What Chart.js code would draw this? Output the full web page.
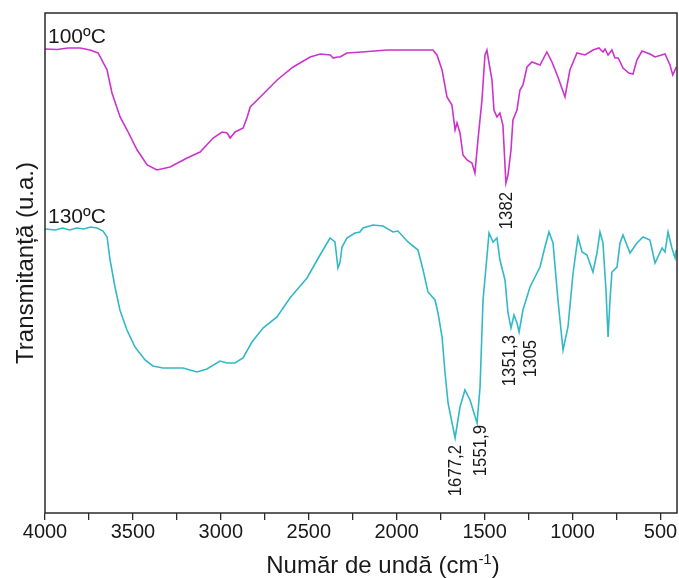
<!DOCTYPE html>
<html>
<head>
<meta charset="utf-8">
<script src="https://cdn.jsdelivr.net/npm/chart.js@4.4.0/dist/chart.umd.min.js"></script>
<style>
  html, body { margin: 0; padding: 0; background: #fff; }
</style>
</head>
<body>
<canvas id="ftirChart" width="679" height="578"></canvas>
<script>
// x axis ticks (cm-1), majors every 500 get a label
const xTicks = [4000, 3750, 3500, 3250, 3000, 2750, 2500, 2250, 2000, 1750, 1500, 1250, 1000, 750, 500]

const seriesNames = ['100ºC', '130ºC']

// 100 ºC spectrum
const wn100 = [4000, 3930, 3870, 3800, 3744, 3698, 3647, 3619, 3573, 3533, 3476, 3419, 3363, 3289, 3192, 3118, 3044, 2993, 2964, 2947,
  2919, 2873, 2850, 2833, 2776, 2680, 2589, 2492, 2435, 2378, 2361, 2338, 2322, 2283, 2197, 2055, 1868, 1794, 1771, 1742,
  1714, 1686, 1668, 1657, 1640, 1623, 1600, 1572, 1555, 1538, 1515, 1498, 1487, 1475, 1458, 1447, 1430, 1413, 1396, 1390,
  1379, 1367, 1350, 1339, 1316, 1299, 1282, 1259, 1231, 1185, 1146, 1117, 1083, 1043, 1015, 975, 929, 884, 850, 827,
  815, 798, 776, 759, 740, 713, 680, 656, 634, 605, 560, 531, 474, 446, 430, 410]
const t100 = [464, 463.5, 465, 465, 463, 460, 443, 420, 396, 383, 363, 348, 343, 346, 355, 361, 375, 381, 380, 375,
  381, 385, 396, 406, 416, 433, 446, 456, 459, 458, 455, 456, 456, 460, 461, 463, 463, 463, 458, 443,
  416, 408, 383, 390, 380, 358, 353, 350, 340, 373, 413, 458, 463, 450, 433, 403, 396, 400, 388, 368,
  330, 338, 363, 393, 403, 423, 428, 446, 451, 448, 461, 451, 436, 416, 443, 460, 458, 463, 465, 461,
  464, 458, 463, 455, 455, 445, 440, 439, 453, 462, 459, 456, 459, 448, 438, 446]

// 130 ºC spectrum
const wn130 = [4000, 3940, 3900, 3860, 3820, 3780, 3740, 3704, 3670, 3647, 3630, 3602, 3574, 3534, 3488, 3431, 3386, 3329, 3215, 3136,
  3079, 3005, 2965, 2920, 2874, 2823, 2760, 2681, 2607, 2510, 2436, 2379, 2351, 2334, 2322, 2311, 2283, 2237, 2209, 2192,
  2135, 2078, 2021, 1993, 1936, 1879, 1850, 1822, 1782, 1765, 1742, 1725, 1708, 1668, 1640, 1612, 1583, 1543, 1526, 1509,
  1487, 1475, 1452, 1430, 1413, 1384, 1367, 1350, 1333, 1316, 1304, 1282, 1242, 1185, 1157, 1134, 1111, 1083, 1054, 1026,
  997, 969, 946, 918, 884, 861, 844, 827, 810, 798, 787, 776, 747, 730, 713, 673, 634, 599, 560, 531,
  491, 474, 457, 435, 417, 410]
const t130 = [284, 283, 285, 283, 285, 284, 286, 285, 282, 276, 253, 226, 203, 183, 166, 153, 147, 145, 145, 141,
  144, 152, 150, 150, 155, 171, 185, 196, 215, 235, 258, 275, 271, 245, 251, 266, 275, 280, 281, 285,
  288, 287, 281, 282, 271, 263, 243, 221, 213, 200, 176, 140, 110, 75, 106, 123, 113, 90, 126, 213,
  256, 280, 271, 275, 253, 233, 200, 185, 198, 190, 181, 203, 226, 246, 266, 281, 270, 213, 163, 186,
  240, 276, 261, 258, 241, 260, 281, 270, 223, 176, 213, 241, 246, 270, 278, 260, 270, 276, 273, 250,
  265, 261, 281, 265, 255, 263]

// marked bands
const peakLabels = ['1382', '1677,2', '1551,9', '1351,3', '1305']
const peakWn = [1379, 1668, 1543, 1350, 1304]
const peakSeries = [0, 1, 1, 1, 1]

const FONT = '"Liberation Sans", Arial, sans-serif'

const extras = {
  id: 'extras',
  afterDraw(chart, args, opts) {
    const { ctx, chartArea: a, scales: { x, y } } = chart
    const wns = [wn100, wn130]
    const vals = [t100, t130]
    ctx.save()

    // frame
    ctx.strokeStyle = '#2a2a2a'
    ctx.lineWidth = 1.5
    ctx.strokeRect(a.left, a.top, a.right - a.left, a.bottom - a.top)

    ctx.fillStyle = '#1a1a1a'

    // series names above the start of each trace
    ctx.font = '21px ' + FONT
    ctx.textAlign = 'left'
    ctx.textBaseline = 'alphabetic'
    seriesNames.forEach((name, i) => {
      ctx.fillText(name, a.left + 3, y.getPixelForValue(vals[i][0]) - 6)
    })

    // rotated band labels under the minima
    ctx.font = '18px ' + FONT
    peakLabels.forEach((txt, i) => {
      const s = peakSeries[i]
      const idx = wns[s].indexOf(peakWn[i])
      const px = x.getPixelForValue(peakWn[i]) + opts.shift[i][0]
      const py = y.getPixelForValue(vals[s][idx]) + opts.shift[i][1]
      ctx.save()
      ctx.translate(px, py)
      ctx.rotate(-Math.PI / 2)
      ctx.scale(0.93, 1)
      ctx.textAlign = 'right'
      ctx.textBaseline = 'middle'
      ctx.fillText(txt, 0, 0)
      ctx.restore()
    })

    // y title
    ctx.font = '24px ' + FONT
    ctx.save()
    ctx.translate(a.left - 12, (a.top + a.bottom) / 2 + 0)
    ctx.rotate(-Math.PI / 2)
    ctx.textAlign = 'center'
    ctx.textBaseline = 'alphabetic'
    ctx.fillText('Transmitanță (u.a.)', 0, 0)
    ctx.restore()

    // x title with superscript
    const main = 'Număr de undă (cm'
    const sup = '-1'
    const end = ')'
    ctx.font = '24px ' + FONT
    const w1 = ctx.measureText(main).width
    const w3 = ctx.measureText(end).width
    ctx.font = '15px ' + FONT
    const w2 = ctx.measureText(sup).width
    const total = w1 + w2 + w3
    let tx = (a.left + a.right) / 2 + 22 - total / 2
    const ty = a.bottom + 60
    ctx.textAlign = 'left'
    ctx.font = '24px ' + FONT
    ctx.fillText(main, tx, ty)
    tx += w1
    ctx.font = '15px ' + FONT
    ctx.fillText(sup, tx, ty - 9)
    tx += w2
    ctx.font = '24px ' + FONT
    ctx.fillText(end, tx, ty)

    ctx.restore()
  }
}

const data = {
  datasets: [
    {
      label: seriesNames[0],
      data: wn100.map((w, i) => ({ x: w, y: t100[i] })),
      borderColor: '#cc33cc',
      borderWidth: 1.6,
      pointRadius: 0,
      tension: 0
    },
    {
      label: seriesNames[1],
      data: wn130.map((w, i) => ({ x: w, y: t130[i] })),
      borderColor: '#33b8c8',
      borderWidth: 1.6,
      pointRadius: 0,
      tension: 0
    }
  ]
}

new Chart(document.getElementById('ftirChart'), {
  type: 'line',
  data: data,
  plugins: [extras],
  options: {
    responsive: false,
    animation: false,
    devicePixelRatio: 1,
    layout: { padding: { top: 13, right: 2, left: 0, bottom: 0 } },
    plugins: {
      legend: { display: false },
      tooltip: { enabled: false },
      extras: { shift: [[1, 9], [1, 7], [4, 2], [-1, 7], [12, 8]] }
    },
    scales: {
      x: {
        type: 'linear',
        reverse: true,
        min: 406,
        max: 4000,
        afterBuildTicks: scale => { scale.ticks = xTicks.map(v => ({ value: v })) },
        afterFit: scale => { scale.height = 65; scale.paddingLeft = 0; scale.paddingRight = 0 },
        border: { display: false },
        grid: { display: true, drawOnChartArea: false, drawTicks: true, tickLength: 7, color: '#2a2a2a', lineWidth: 1.3 },
        ticks: {
          autoSkip: false,
          maxRotation: 0,
          padding: 0,
          color: '#1a1a1a',
          font: { family: FONT, size: 20 },
          callback: v => (v % 500 === 0 ? String(v) : '')
        }
      },
      y: {
        min: 0,
        max: 500,
        afterFit: scale => { scale.width = 45 },
        border: { display: false },
        grid: { display: false },
        ticks: { display: false }
      }
    }
  }
})
</script>
</body>
</html>
